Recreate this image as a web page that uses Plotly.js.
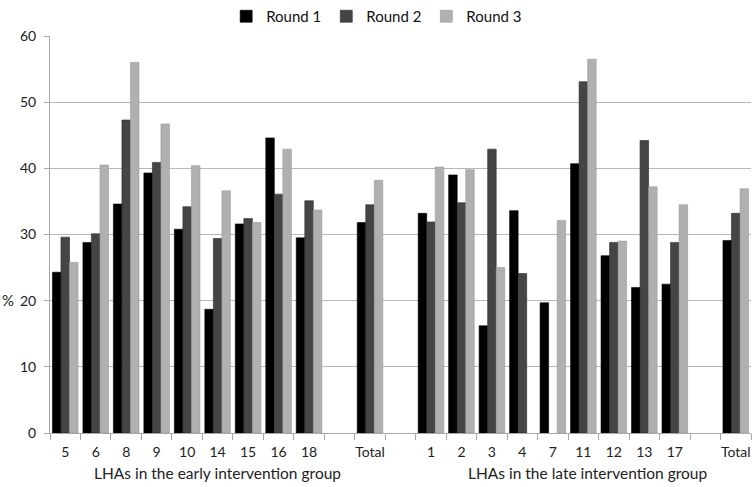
<!DOCTYPE html>
<html><head><meta charset="utf-8">
<script src="https://cdn.plot.ly/plotly-3.0.1.min.js"></script>
<style>html,body{margin:0;padding:0;background:#fff}#chart{width:752px;height:487px}</style>
</head><body><div id="chart"></div>
<script>
// category keys (unique) and displayed labels
const categories = ["5","6","8","9","10","14","15","16","18","gapA","TotalEarly","gapB","1","2","3","4","7","11","12","13","17","gapC","TotalLate"];
const tickLabels = ["5","6","8","9","10","14","15","16","18","","Total","","1","2","3","4","7","11","12","13","17","","Total"];
const round1 = [24.3,28.8,34.6,39.3,30.8,18.7,31.6,44.6,29.5,null,31.8,null,33.2,39.0,16.2,33.6,19.7,40.7,26.8,22.0,22.5,null,29.1];
const round2 = [29.6,30.1,47.3,40.9,34.2,29.4,32.4,36.1,35.1,null,34.5,null,31.9,34.8,42.9,24.1,null,53.1,28.8,44.2,28.8,null,33.2];
const round3 = [25.8,40.5,56.0,46.7,40.4,36.6,31.8,42.9,33.7,null,38.2,null,40.2,39.8,25.0,null,32.1,56.5,29.0,37.2,34.5,null,36.9];
const seriesNames = ["Round 1","Round 2","Round 3"];
const yTicks = [0,10,20,30,40,50,60];

const font = "Lato, 'Open Sans', sans-serif";
const colors = ["#000000","#454545","#b0b0b0"];
const lineColors = ["#000000","#2a2a2a","#9a9a9a"];
const data = [round1, round2, round3].map((v,i)=>({
  type:"bar", x:categories, y:v, name:seriesNames[i],
  marker:{color:colors[i], line:{color:lineColors[i], width:0.6}}
}));

const layout = {
  width:752, height:487,
  margin:{l:50, r:1, t:36, b:54},
  paper_bgcolor:"#fff", plot_bgcolor:"#fff",
  barmode:"group", bargap:0.16, bargroupgap:0,
  font:{family:font, size:13, color:"#222"},
  showlegend:true,
  legend:{orientation:"h", x:0.466, xanchor:"center", y:1.0, yref:"container", yanchor:"top",
          font:{family:font, size:15, color:"#111"}, itemwidth:30, traceorder:"normal"},
  xaxis:{type:"category", categoryorder:"array", categoryarray:categories,
         tickvals:categories, ticktext:tickLabels, tickson:"boundaries", tickangle:0,
         ticks:"outside", ticklen:6, tickcolor:"#a8a8a8", tickwidth:1, ticklabelstandoff:6,
         showline:true, linecolor:"#a8a8a8", linewidth:1, showgrid:false,
         tickfont:{family:font, size:14, color:"#222"}, fixedrange:true},
  yaxis:{range:[0,60], tickvals:yTicks, ticks:"outside", ticklen:5, tickcolor:"#a8a8a8",
         ticklabelstandoff:5,
         showline:true, linecolor:"#a8a8a8", linewidth:1,
         showgrid:true, gridcolor:"#b8b8b8", gridwidth:1, zeroline:false,
         tickfont:{family:font, size:14, color:"#222"}},
  annotations:[
    {text:"%", xref:"paper", yref:"paper", x:-0.06, y:0.335, xanchor:"center", yanchor:"middle",
     showarrow:false, font:{family:font, size:15, color:"#222"}},
    {text:"LHAs in the early intervention group", xref:"paper", yref:"paper", x:(217-50)/701, y:-0.1,
     xanchor:"center", yanchor:"middle", showarrow:false, font:{family:font, size:15.5, color:"#222"}},
    {text:"LHAs in the late intervention group", xref:"paper", yref:"paper", x:(587-50)/701, y:-0.1,
     xanchor:"center", yanchor:"middle", showarrow:false, font:{family:font, size:15.5, color:"#222"}}
  ]
};
Plotly.newPlot("chart", data, layout, {displayModeBar:false, staticPlot:true});
</script></body></html>
